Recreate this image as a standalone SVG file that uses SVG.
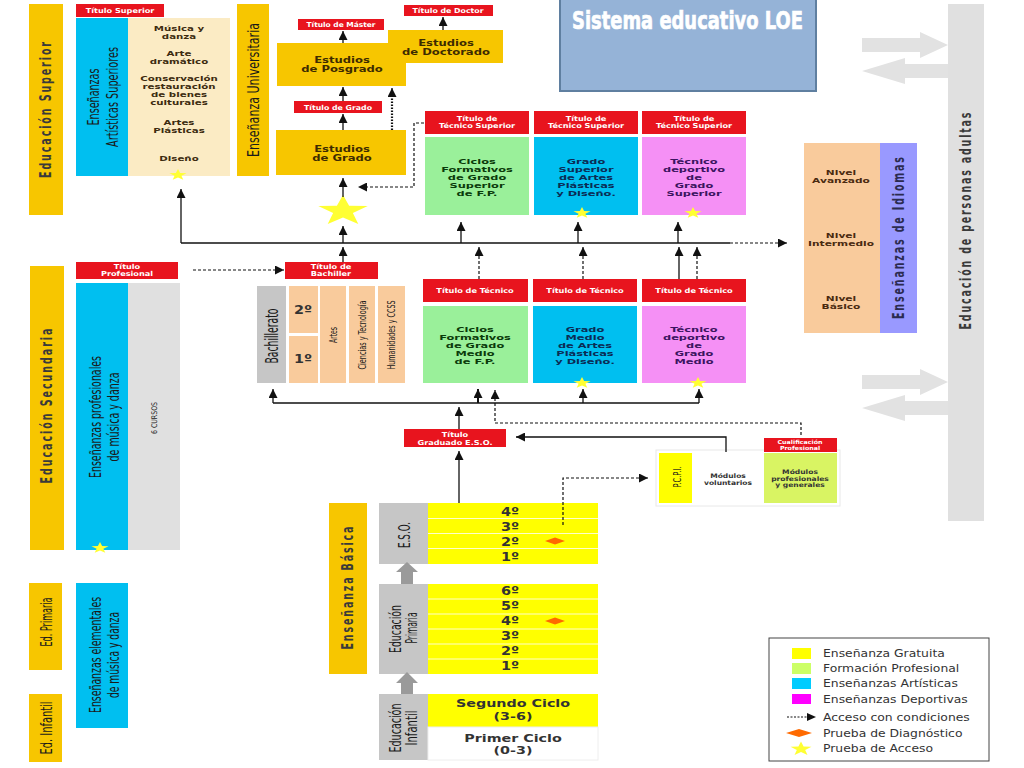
<svg xmlns="http://www.w3.org/2000/svg" width="1024" height="768" viewBox="0 0 1024 768">
<defs>
<style>
text{font-family:"DejaVu Sans",Verdana,sans-serif}
.gold{fill:#F7C600}.red{fill:#E8141E}.cyan{fill:#00BFF0}.green{fill:#9AF09A}.pink{fill:#F590F5}.cream{fill:#FBEBC4}.peach{fill:#F9CB9C}.gray{fill:#C6C6C6}.lgray{fill:#E0E0E0}.yel{fill:#FFFF00}.purple{fill:#9999FF}
.rt{font-size:6.8px;font-weight:bold;fill:#fff;text-anchor:middle}
.bt{font-size:7.6px;font-weight:bold;text-anchor:middle}
.gt{font-size:8.4px;font-weight:bold;text-anchor:middle}
.vs{font-size:9.5px;font-weight:bold;fill:#3a3a3a;text-anchor:middle;dominant-baseline:central}
.vn{font-family:"Liberation Sans Narrow","DejaVu Sans Condensed",sans-serif;font-size:11px;fill:#1a1a1a;text-anchor:middle;dominant-baseline:central}
.ln{fill:none;stroke:#111;stroke-width:1.3}
.ds{fill:none;stroke:#111;stroke-width:1.2;stroke-dasharray:3 2}
.dt{fill:none;stroke:#111;stroke-width:2.2;stroke-dasharray:1.5 1.5}
.star{fill:#FFFF33}
.dia{fill:#FF6A00}
.row{stroke:#fff;stroke-width:0.8}
.lg{font-size:10.5px;fill:#333}
.num{font-size:12px;font-weight:bold;fill:#333;text-anchor:middle}
</style>
<marker id="ah" viewBox="0 0 10 10" refX="10" refY="5" markerWidth="9" markerHeight="9" markerUnits="userSpaceOnUse" orient="auto"><path d="M0,0 L10,5 L0,10 z" fill="#111"/></marker>
<path id="st" d="M0,-10 L2.35,-3.24 L9.51,-3.09 L3.80,1.24 L5.88,8.09 L0,4 L-5.88,8.09 L-3.80,1.24 L-9.51,-3.09 L-2.35,-3.24 Z"/>
</defs>
<rect x="0" y="0" width="1024" height="768" fill="#fff"/>

<!-- Title -->
<g id="titulo">
<rect x="560" y="-2" width="256" height="93" fill="#95B3D7" stroke="#5F7FA0" stroke-width="2"/>
<text x="572" y="29" font-family="Liberation Sans Narrow,DejaVu Sans Condensed,sans-serif" font-weight="bold" font-size="24" fill="#fff" stroke="#fff" stroke-width="0.7" textLength="231" lengthAdjust="spacingAndGlyphs">Sistema educativo LOE</text>
</g>

<!-- Adults bar and arrows -->
<g id="personas-adultas">
<rect class="lgray" x="948" y="4" width="36" height="517"/>
<text class="vs" transform="translate(966 221) rotate(-90) scale(1 1.6)" font-size="10" textLength="217" lengthAdjust="spacing">Educación de personas adultas</text>
<path fill="#E2E2E2" d="M862 38 H920 V32 L948 45 L920 58 V52 H862 Z"/>
<path fill="#E2E2E2" d="M948 64 H905 V58 L862 71 L905 84 V78 H948 Z"/>
<path fill="#E2E2E2" d="M862 375 H920 V369 L948 382 L920 395 V389 H862 Z"/>
<path fill="#E2E2E2" d="M948 401 H905 V395 L862 408 L905 421 V415 H948 Z"/>
</g>

<!-- Idiomas -->
<g id="idiomas">
<rect class="peach" x="804" y="143" width="76" height="190"/>
<rect class="purple" x="880" y="143" width="37" height="190"/>
<text class="vs" transform="translate(899 238) rotate(-90) scale(1 1.6)" style="fill:#2b2b50" textLength="162" lengthAdjust="spacing">Enseñanzas de Idiomas</text>
<g transform="translate(841 0) scale(1.4 1)" fill="#4a2a10">
<text class="bt" x="0" y="175">Nivel</text>
<text class="bt" x="0" y="183">Avanzado</text>
<text class="bt" x="0" y="238">Nivel</text>
<text class="bt" x="0" y="246">Intermedio</text>
<text class="bt" x="0" y="301">Nivel</text>
<text class="bt" x="0" y="309">Básico</text>
</g>
</g>

<!-- Educación Superior -->
<g id="educacion-superior">
<rect class="gold" x="29" y="4" width="34" height="211"/>
<text class="vs" transform="translate(46 110) rotate(-90) scale(1 1.6)" textLength="136" lengthAdjust="spacing">Educación Superior</text>
</g>

<g id="artisticas-superiores">
<rect class="red" x="76" y="4" width="88" height="13"/>
<g transform="translate(120 0) scale(1.2 1)"><text class="rt" x="0" y="13">Título Superior</text></g>
<rect class="cyan" x="76" y="18" width="52" height="158"/>
<text class="vn" transform="translate(93 97) rotate(-90) scale(1 1.5)" textLength="57" lengthAdjust="spacingAndGlyphs">Enseñanzas</text>
<text class="vn" transform="translate(112 97) rotate(-90) scale(1 1.5)" textLength="100" lengthAdjust="spacingAndGlyphs">Artísticas Superiores</text>
<rect class="cream" x="128" y="18" width="102" height="158"/>
<g transform="translate(179 0) scale(1.35 1)" fill="#3d2b10">
<text class="bt" x="0" y="31">Música y</text>
<text class="bt" x="0" y="39">danza</text>
<text class="bt" x="0" y="56">Arte</text>
<text class="bt" x="0" y="64">dramático</text>
<text class="bt" x="0" y="81">Conservación</text>
<text class="bt" x="0" y="89">restauración</text>
<text class="bt" x="0" y="97">de bienes</text>
<text class="bt" x="0" y="105">culturales</text>
<text class="bt" x="0" y="125">Artes</text>
<text class="bt" x="0" y="133">Plásticas</text>
<text class="bt" x="0" y="161">Diseño</text>
</g>
<use href="#st" class="star" transform="translate(178 175) scale(0.9 0.6)"/>
</g>

<g id="ensenanza-universitaria">
<rect class="gold" x="237" y="4" width="32" height="172"/>
<text class="vn" transform="translate(253 90) rotate(-90) scale(1 1.5)" textLength="134" lengthAdjust="spacingAndGlyphs">Enseñanza Universitaria</text>
</g>

<g id="posgrado">
<rect class="gold" x="277" y="43" width="129" height="43"/>
<rect class="red" x="298" y="19" width="86" height="11"/>
<g transform="translate(341 0) scale(1.1 1)"><text class="rt" x="0" y="27.5">Título de Máster</text></g>
<g transform="translate(342 0) scale(1.38 1)" fill="#3d2b00"><text class="gt" x="0" y="63">Estudios</text><text class="gt" x="0" y="72">de Posgrado</text></g>
</g>
<g id="doctorado">
<rect class="gold" x="388" y="30" width="115" height="33"/>
<rect class="red" x="404" y="5" width="89" height="11"/>
<g transform="translate(448 0) scale(1.15 1)"><text class="rt" x="0" y="13.5">Título de Doctor</text></g>
<g transform="translate(446 0) scale(1.38 1)" fill="#3d2b00"><text class="gt" x="0" y="46">Estudios</text><text class="gt" x="0" y="55">de Doctorado</text></g>
</g>
<g id="grado">
<rect class="red" x="294" y="101" width="88" height="12"/>
<g transform="translate(338 0) scale(1.15 1)"><text class="rt" x="0" y="110">Título de Grado</text></g>
<rect class="gold" x="276" y="130" width="130" height="45"/>
<g transform="translate(342 0) scale(1.38 1)" fill="#3d2b00"><text class="gt" x="0" y="152">Estudios</text><text class="gt" x="0" y="161">de Grado</text></g>
<use href="#st" class="star" transform="translate(343 211) scale(2.6 1.6)"/>
</g>

<!-- Grado Superior -->
<g id="cf-grado-superior">
<rect class="red" x="425" y="111" width="104" height="23"/>
<g transform="translate(477 0) scale(1.2 1)"><text class="rt" x="0" y="121.5">Título de</text><text class="rt" x="0" y="128.5">Técnico Superior</text></g>
<rect class="green" x="425" y="137" width="104" height="78"/>
<g transform="translate(477 0) scale(1.5 1)" fill="#0a3a0a"><text class="bt" x="0" y="164">Ciclos</text><text class="bt" x="0" y="172">Formativos</text><text class="bt" x="0" y="180">de Grado</text><text class="bt" x="0" y="188">Superior</text><text class="bt" x="0" y="196">de F.P.</text></g>
</g>
<g id="artes-grado-superior">
<rect class="red" x="534" y="111" width="104" height="23"/>
<g transform="translate(586 0) scale(1.2 1)"><text class="rt" x="0" y="121.5">Título de</text><text class="rt" x="0" y="128.5">Técnico Superior</text></g>
<rect class="cyan" x="534" y="137" width="104" height="78"/>
<g transform="translate(586 0) scale(1.5 1)" fill="#0b2c55"><text class="bt" x="0" y="164">Grado</text><text class="bt" x="0" y="172">Superior</text><text class="bt" x="0" y="180">de Artes</text><text class="bt" x="0" y="188">Plásticas</text><text class="bt" x="0" y="196">y Diseño.</text></g>
<use href="#st" class="star" transform="translate(582 213) scale(0.9 0.6)"/>
</g>
<g id="deportivo-grado-superior">
<rect class="red" x="642" y="111" width="104" height="23"/>
<g transform="translate(694 0) scale(1.2 1)"><text class="rt" x="0" y="121.5">Título de</text><text class="rt" x="0" y="128.5">Técnico Superior</text></g>
<rect class="pink" x="642" y="137" width="104" height="78"/>
<g transform="translate(694 0) scale(1.5 1)" fill="#3b1460"><text class="bt" x="0" y="164">Técnico</text><text class="bt" x="0" y="172">deportivo</text><text class="bt" x="0" y="180">de</text><text class="bt" x="0" y="188">Grado</text><text class="bt" x="0" y="196">Superior</text></g>
<use href="#st" class="star" transform="translate(693 213) scale(0.9 0.6)"/>
</g>

<!-- Secundaria -->
<g id="educacion-secundaria">
<rect class="gold" x="30" y="266" width="34" height="284"/>
<text class="vs" transform="translate(47 406) rotate(-90) scale(1 1.6)" textLength="155" lengthAdjust="spacing">Educación Secundaria</text>
</g>
<g id="profesionales-musica">
<rect class="red" x="76" y="262" width="102" height="17"/>
<g transform="translate(127 0) scale(1.2 1)"><text class="rt" x="0" y="269">Título</text><text class="rt" x="0" y="276.5">Profesional</text></g>
<rect class="cyan" x="76" y="283" width="52" height="267"/>
<rect class="lgray" x="128" y="283" width="52" height="267"/>
<text class="vn" transform="translate(95 417) rotate(-90) scale(1 1.5)" textLength="122" lengthAdjust="spacingAndGlyphs">Enseñanzas profesionales</text>
<text class="vn" transform="translate(113 417) rotate(-90) scale(1 1.5)" textLength="89" lengthAdjust="spacingAndGlyphs">de música y danza</text>
<text class="vn" transform="translate(155 418) rotate(-90) scale(1 1.3)" style="font-size:6px" textLength="32" lengthAdjust="spacingAndGlyphs">6 CURSOS</text>
<use href="#st" class="star" transform="translate(100 548) scale(0.9 0.6)"/>
</g>

<g id="bachillerato">
<rect class="red" x="285" y="262" width="93" height="17"/>
<g transform="translate(331 0) scale(1.2 1)"><text class="rt" x="0" y="269">Título de</text><text class="rt" x="0" y="276.5">Bachiller</text></g>
<rect class="gray" x="257" y="286" width="29" height="97"/>
<text class="vn" transform="translate(272 336) rotate(-90) scale(1 1.4)" style="font-size:12px" textLength="55" lengthAdjust="spacingAndGlyphs">Bachillerato</text>
<rect class="peach" x="289" y="286" width="29" height="47"/>
<rect class="peach" x="289" y="336" width="29" height="47"/>
<g transform="translate(303 0) scale(1.2 1)"><text class="num" x="0" y="314">2º</text><text class="num" x="0" y="363">1º</text></g>
<rect class="peach" x="320" y="286" width="26" height="97"/>
<rect class="peach" x="349" y="286" width="26" height="97"/>
<rect class="peach" x="378" y="286" width="27" height="97"/>
<text class="vn" transform="translate(333 335) rotate(-90) scale(1 1.5)" style="font-size:7px" textLength="16" lengthAdjust="spacingAndGlyphs">Artes</text>
<text class="vn" transform="translate(362 335) rotate(-90) scale(1 1.5)" style="font-size:7px" textLength="69" lengthAdjust="spacingAndGlyphs">Ciencias y Tecnología</text>
<text class="vn" transform="translate(391 335) rotate(-90) scale(1 1.5)" style="font-size:7px" textLength="69" lengthAdjust="spacingAndGlyphs">Humanidades y CCSS</text>
</g>

<g id="cf-grado-medio">
<rect class="red" x="423" y="279" width="105" height="23"/>
<g transform="translate(475 0) scale(1.2 1)"><text class="rt" x="0" y="293.5">Título de Técnico</text></g>
<rect class="green" x="423" y="306" width="105" height="77"/>
<g transform="translate(475 0) scale(1.5 1)" fill="#0a3a0a"><text class="bt" x="0" y="332">Ciclos</text><text class="bt" x="0" y="340">Formativos</text><text class="bt" x="0" y="348">de Grado</text><text class="bt" x="0" y="356">Medio</text><text class="bt" x="0" y="364">de F.P.</text></g>
</g>
<g id="artes-grado-medio">
<rect class="red" x="533" y="279" width="104" height="23"/>
<g transform="translate(585 0) scale(1.2 1)"><text class="rt" x="0" y="293.5">Título de Técnico</text></g>
<rect class="cyan" x="533" y="306" width="104" height="77"/>
<g transform="translate(585 0) scale(1.5 1)" fill="#0b2c55"><text class="bt" x="0" y="332">Grado</text><text class="bt" x="0" y="340">Medio</text><text class="bt" x="0" y="348">de Artes</text><text class="bt" x="0" y="356">Plásticas</text><text class="bt" x="0" y="364">y Diseño.</text></g>
<use href="#st" class="star" transform="translate(582 383) scale(0.9 0.6)"/>
</g>
<g id="deportivo-grado-medio">
<rect class="red" x="642" y="279" width="104" height="23"/>
<g transform="translate(694 0) scale(1.2 1)"><text class="rt" x="0" y="293.5">Título de Técnico</text></g>
<rect class="pink" x="642" y="306" width="104" height="77"/>
<g transform="translate(694 0) scale(1.5 1)" fill="#3b1460"><text class="bt" x="0" y="332">Técnico</text><text class="bt" x="0" y="340">deportivo</text><text class="bt" x="0" y="348">de</text><text class="bt" x="0" y="356">Grado</text><text class="bt" x="0" y="364">Medio</text></g>
<use href="#st" class="star" transform="translate(698 383) scale(0.9 0.6)"/>
</g>

<g id="graduado-eso">
<rect class="red" x="404" y="429" width="102" height="18"/>
<g transform="translate(455 0) scale(1.2 1)"><text class="rt" x="0" y="437">Título</text><text class="rt" x="0" y="445">Graduado E.S.O.</text></g>
</g>

<g id="pcpi">
<rect x="656" y="450" width="184" height="56" fill="#fff" stroke="#e8e8e8"/>
<rect class="yel" x="659" y="453" width="33" height="50"/>
<text class="vn" transform="translate(677 477) rotate(-90) scale(1 1.5)" style="font-size:7px" textLength="21" lengthAdjust="spacingAndGlyphs">P.C.P.I.</text>
<g transform="translate(728 0) scale(1.2 1)" fill="#333"><text class="bt" style="font-size:6.3px" x="0" y="478">Módulos</text><text class="bt" style="font-size:6.3px" x="0" y="485">voluntarios</text></g>
<rect x="764" y="453" width="73" height="50" fill="#D9F463"/>
<g transform="translate(800 0) scale(1.22 1)" fill="#333"><text class="bt" style="font-size:6.2px" x="0" y="474.5">Módulos</text><text class="bt" style="font-size:6.2px" x="0" y="481">profesionales</text><text class="bt" style="font-size:6.2px" x="0" y="487.5">y generales</text></g>
<rect class="red" x="764" y="438" width="73" height="14"/>
<g transform="translate(800 0) scale(1.15 1)"><text class="rt" style="font-size:5.5px" x="0" y="444">Cualificación</text><text class="rt" style="font-size:5.5px" x="0" y="450.5">Profesional</text></g>
</g>

<!-- Enseñanza básica -->
<g id="ensenanza-basica">
<rect class="gold" x="329" y="503" width="38" height="171"/>
<text class="vs" transform="translate(348 588) rotate(-90) scale(1 1.6)" textLength="123" lengthAdjust="spacing">Enseñanza Básica</text>
</g>
<g id="eso">
<rect class="gray" x="379" y="503" width="49" height="61"/>
<text class="vn" transform="translate(404 535) rotate(-90) scale(1 1.5)" textLength="26" lengthAdjust="spacingAndGlyphs">E.S.O.</text>
<rect class="yel" x="428" y="503" width="170" height="61"/>
<path class="row" d="M428 518.5 H598 M428 533.5 H598 M428 548.5 H598"/>
<g transform="translate(510 0) scale(1.2 1)"><text class="num" x="0" y="516">4º</text><text class="num" x="0" y="531">3º</text><text class="num" x="0" y="546">2º</text><text class="num" x="0" y="561">1º</text></g>
<polygon class="dia" points="545,541 555,537.5 565,541 555,544.5"/>
</g>
<g id="primaria">
<rect class="gray" x="379" y="584" width="49" height="90"/>
<text class="vn" transform="translate(395 629) rotate(-90) scale(1 1.5)" textLength="48" lengthAdjust="spacingAndGlyphs">Educación</text>
<text class="vn" transform="translate(411 628) rotate(-90) scale(1 1.5)" textLength="31" lengthAdjust="spacingAndGlyphs">Primaria</text>
<rect class="yel" x="428" y="584" width="170" height="90"/>
<path class="row" d="M428 599 H598 M428 614 H598 M428 629 H598 M428 644 H598 M428 659 H598"/>
<g transform="translate(510 0) scale(1.2 1)"><text class="num" x="0" y="595">6º</text><text class="num" x="0" y="610">5º</text><text class="num" x="0" y="625">4º</text><text class="num" x="0" y="640">3º</text><text class="num" x="0" y="655">2º</text><text class="num" x="0" y="670">1º</text></g>
<polygon class="dia" points="545,621 555,617.5 565,621 555,624.5"/>
</g>
<g id="infantil">
<rect class="gray" x="379" y="694" width="49" height="66"/>
<text class="vn" transform="translate(395 728) rotate(-90) scale(1 1.5)" textLength="49" lengthAdjust="spacingAndGlyphs">Educación</text>
<text class="vn" transform="translate(411 728) rotate(-90) scale(1 1.5)" textLength="35" lengthAdjust="spacingAndGlyphs">Infantil</text>
<rect class="yel" x="428" y="694" width="170" height="33"/>
<rect x="428" y="727" width="170" height="33" fill="#fff" stroke="#eee"/>
<g transform="translate(513 0) scale(1.3 1)" fill="#333"><text class="bt" style="font-size:11px" x="0" y="707">Segundo Ciclo</text><text class="bt" style="font-size:11px" x="0" y="720">(3-6)</text><text class="bt" style="font-size:11px" x="0" y="742">Primer Ciclo</text><text class="bt" style="font-size:11px" x="0" y="754">(0-3)</text></g>
</g>
<g id="flechas-grises" fill="#9A9A9A">
<path d="M401 584 V572 H396 L407 562 L418 572 H413 V584 Z"/>
<path d="M401 694 V683 H396 L407 672 L418 683 H413 V694 Z"/>
</g>

<!-- left bottom -->
<g id="ed-primaria">
<rect class="gold" x="29" y="583" width="33" height="87"/>
<text class="vn" transform="translate(46 622) rotate(-90) scale(1 1.5)" textLength="49" lengthAdjust="spacingAndGlyphs">Ed. Primaria</text>
</g>
<g id="ed-infantil">
<rect class="gold" x="29" y="694" width="33" height="68"/>
<text class="vn" transform="translate(46 728) rotate(-90) scale(1 1.5)" textLength="53" lengthAdjust="spacingAndGlyphs">Ed. Infantil</text>
</g>
<g id="elementales-musica">
<rect class="cyan" x="76" y="583" width="52" height="145"/>
<text class="vn" transform="translate(95 655) rotate(-90) scale(1 1.5)" textLength="116" lengthAdjust="spacingAndGlyphs">Enseñanzas elementales</text>
<text class="vn" transform="translate(113 655) rotate(-90) scale(1 1.5)" textLength="86" lengthAdjust="spacingAndGlyphs">de música y danza</text>
</g>

<!-- connectors -->
<g id="conectores">
<path class="ln" d="M181 243 H730"/>
<path class="ds" d="M730 243 H787" marker-end="url(#ah)"/>
<path class="ln" d="M181 243 V189" marker-end="url(#ah)"/>
<path class="ln" d="M343 243 V226" marker-end="url(#ah)"/>
<path class="ln" d="M343 197 V178" marker-end="url(#ah)"/>
<path class="ln" d="M343 130 V114" marker-end="url(#ah)"/>
<path class="ln" d="M343 101 V87" marker-end="url(#ah)"/>
<path class="ln" d="M343 43 V31" marker-end="url(#ah)"/>
<path class="ln" d="M443 30 V17" marker-end="url(#ah)"/>
<path class="dt" d="M392 130 V92"/>
<path class="ln" d="M392 96 V88" marker-end="url(#ah)"/>
<path class="ds" d="M424 123 H414 V187 H358" marker-end="url(#ah)"/>
<path class="ln" d="M461 243 V222" marker-end="url(#ah)"/>
<path class="ln" d="M578 243 V222" marker-end="url(#ah)"/>
<path class="ln" d="M678 243 V222" marker-end="url(#ah)"/>
<path class="ds" d="M479 279 V247" marker-end="url(#ah)"/>
<path class="ds" d="M583 279 V247" marker-end="url(#ah)"/>
<path class="ln" d="M679 279 V247" marker-end="url(#ah)"/>
<path class="ds" d="M697 279 V247" marker-end="url(#ah)"/>
<path class="ln" d="M343 262 V247" marker-end="url(#ah)"/>
<path class="ds" d="M193 270 H284" marker-end="url(#ah)"/>
<path class="ln" d="M273 403 H699"/>
<path class="ln" d="M273 403 V389" marker-end="url(#ah)"/>
<path class="ln" style="stroke-width:2" d="M478 403 V389" marker-end="url(#ah)"/>
<path class="ln" d="M583 403 V389" marker-end="url(#ah)"/>
<path class="ln" d="M699 403 V389" marker-end="url(#ah)"/>
<path class="ln" d="M459 429 V407" marker-end="url(#ah)"/>
<path class="ds" d="M801 435 V423 H495 V390" marker-end="url(#ah)"/>
<path class="ln" d="M726 452 V437 H516" marker-end="url(#ah)"/>
<path class="ln" d="M459 503 V451" marker-end="url(#ah)"/>
<path class="ds" d="M563 525 V478 H648" marker-end="url(#ah)"/>
</g>

<!-- legend -->
<g id="leyenda">
<rect x="769" y="638" width="220" height="123" fill="#fff" stroke="#444"/>
<rect x="792" y="648" width="19" height="11" fill="#FFFF00"/>
<rect x="792" y="663" width="19" height="11" fill="#CCFF66"/>
<rect x="792" y="678" width="19" height="11" fill="#00CCFF"/>
<rect x="792" y="694" width="19" height="10" fill="#FF00FF"/>
<path d="M787 717 H808" fill="none" stroke="#111" stroke-width="1" stroke-dasharray="2 1.5"/>
<path d="M807 713 L816 717 L807 721 Z" fill="#111"/>
<polygon class="dia" points="786,733 799,729 812,733 799,737"/>
<use href="#st" class="star" transform="translate(801 749) scale(1.1 0.75)"/>
<g transform="translate(823 0) scale(1.18 1)">
<text class="lg" x="0" y="657">Enseñanza Gratuita</text>
<text class="lg" x="0" y="672">Formación Profesional</text>
<text class="lg" x="0" y="687">Enseñanzas Artísticas</text>
<text class="lg" x="0" y="703">Enseñanzas Deportivas</text>
<text class="lg" x="0" y="721">Acceso con condiciones</text>
<text class="lg" x="0" y="737">Prueba de Diagnóstico</text>
<text class="lg" x="0" y="752">Prueba de Acceso</text>
</g>
</g>
</svg>
